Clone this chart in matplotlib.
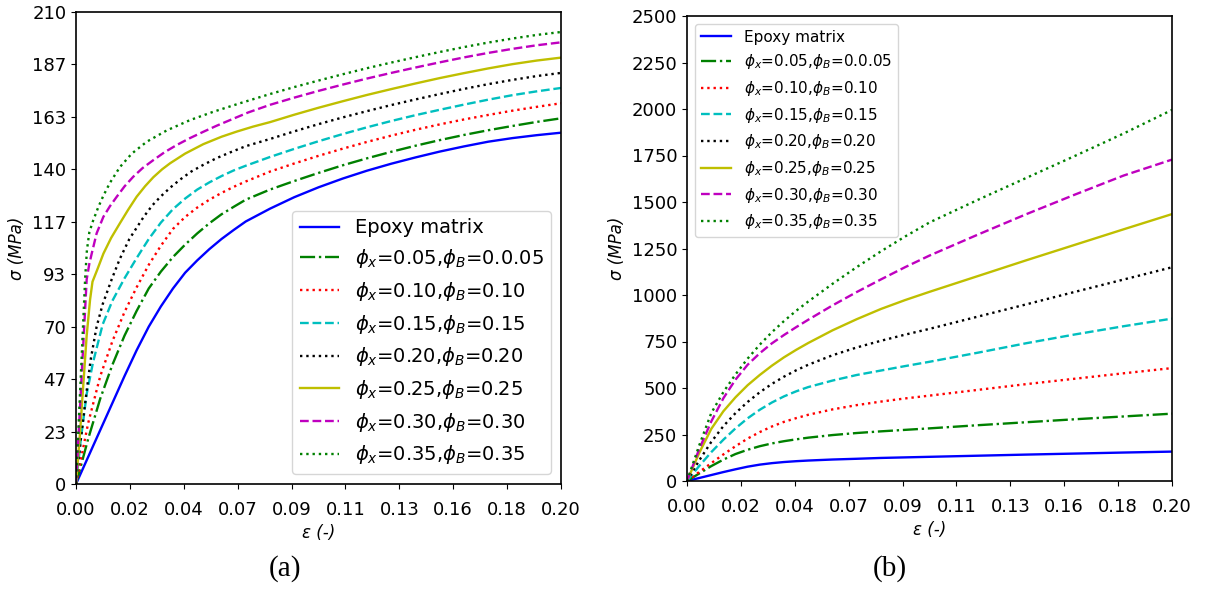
import matplotlib
matplotlib.use('Agg')
import matplotlib.pyplot as plt

# ---------------- data: panel (a) ----------------
a_grid = [0, 0.005, 0.01, 0.015, 0.02, 0.025, 0.03, 0.035, 0.04, 0.045, 0.05, 0.055, 0.06, 0.065,
          0.07, 0.08, 0.09, 0.10, 0.11, 0.12, 0.13, 0.14, 0.15, 0.16, 0.17, 0.18, 0.19, 0.20]
a_epoxy_sig = [0, 12, 24, 36, 48, 59.5, 70, 79, 87, 94, 99.5, 104.5, 109, 113, 116.8, 122.5, 127.6,
               132.0, 135.9, 139.4, 142.5, 145.3, 147.9, 150.2, 152.3, 153.9, 155.2, 156.3]
a_p05_sig = [0, 20, 38, 53, 66, 77, 87, 94.5, 101, 106.5, 111.5, 116, 120, 123.3, 126.5, 131, 134.8,
             138.4, 141.8, 144.9, 147.8, 150.5, 153.0, 155.3, 157.4, 159.3, 161.1, 162.7]
a_p10_sig = [0, 27, 48, 63.5, 76.5, 87.5, 97.5, 106, 113.5, 118.8, 123, 126.5, 129.5, 132.2, 134.6, 139,
             142.6, 146.0, 149.2, 152.2, 155.0, 157.6, 160.0, 162.2, 164.2, 166.1, 167.8, 169.4]

a_p15_eps = [0, 0.002, 0.0044, 0.007, 0.011, 0.015, 0.02, 0.025, 0.03, 0.035, 0.04, 0.045, 0.05, 0.055, 0.06,
             0.065, 0.07, 0.08, 0.09, 0.10, 0.11, 0.12, 0.13, 0.14, 0.15, 0.16, 0.17, 0.18, 0.19, 0.20]
a_p15_sig = [0, 20, 40, 54, 71, 81.5, 91.5, 100.5, 109, 116.3, 122.3, 127, 131, 134.2, 137, 139.5, 141.6,
             145.5, 149.1, 152.5, 155.7, 158.7, 161.5, 164.1, 166.5, 168.8, 171.0, 173.0, 174.7, 176.2]

a_p20_eps = [0, 0.002, 0.004, 0.006, 0.0085, 0.011, 0.0147, 0.018, 0.022, 0.028, 0.0315, 0.035, 0.039, 0.043,
             0.0475, 0.0525, 0.058, 0.0635, 0.07, 0.08, 0.09, 0.10, 0.11, 0.12, 0.13, 0.14, 0.15, 0.16, 0.17,
             0.18, 0.19, 0.20]
a_p20_sig = [0, 20, 38, 55, 70, 80, 91, 100, 109, 119, 124, 128, 132, 135.5, 139, 142, 145, 147.5, 150.3,
             153.5, 156.9, 160.1, 163.1, 165.9, 168.6, 171.1, 173.5, 175.8, 177.9, 179.8, 181.5, 182.9]

a_p25_eps = [0, 0.0016, 0.003, 0.0044, 0.0058, 0.0068, 0.009, 0.0113, 0.0145, 0.0181, 0.0215, 0.025, 0.0285,
             0.0319, 0.0355, 0.0388, 0.045, 0.0525, 0.06, 0.0663, 0.073, 0.08, 0.09, 0.10, 0.11, 0.12, 0.13,
             0.14, 0.15, 0.16, 0.17, 0.18, 0.19, 0.20]
a_p25_sig = [0, 22, 44, 66, 82, 90, 96, 102.5, 109.5, 116, 122, 127.8, 132.5, 136.5, 140, 142.7, 147, 151.2,
             154.5, 156.8, 159, 161, 164.3, 167.4, 170.3, 173.1, 175.7, 178.2, 180.6, 182.8, 184.9, 186.8,
             188.4, 189.7]

a_p30_eps = [0, 0.0044, 0.0055, 0.0065, 0.0085, 0.0113, 0.014, 0.0168, 0.02, 0.0236, 0.0275, 0.0319, 0.0365,
             0.0415, 0.047, 0.0525, 0.058, 0.0635, 0.071, 0.08, 0.09, 0.10, 0.11, 0.12, 0.13, 0.14, 0.15, 0.16,
             0.17, 0.18, 0.19, 0.20]
a_p30_sig = [0, 91, 98, 102.6, 111.5, 118.9, 123.6, 127.8, 132.4, 136.7, 140.6, 144.1, 147.6, 150.8, 153.9,
             156.7, 159.4, 161.9, 165.3, 168.7, 171.9, 174.9, 177.7, 180.4, 182.9, 185.3, 187.6, 189.8, 191.8,
             193.6, 195.2, 196.5]

a_p35_eps = [0, 0.0038, 0.0045, 0.0055, 0.007, 0.0092, 0.0113, 0.014, 0.0181, 0.023, 0.0292, 0.0374, 0.047,
             0.0566, 0.0676, 0.08, 0.09, 0.10, 0.11, 0.12, 0.13, 0.14, 0.15, 0.16, 0.17, 0.18, 0.19, 0.20]
a_p35_sig = [0, 92, 104, 112, 117, 123.2, 128.3, 134, 141, 147, 152.3, 157.3, 161.9, 165.6, 169.4, 173.5,
             176.6, 179.5, 182.3, 185.0, 187.5, 189.9, 192.2, 194.4, 196.4, 198.2, 199.8, 201.1]

# ---------------- data: panel (b) ----------------
b_eps = [0, 0.005, 0.01, 0.015, 0.02, 0.025, 0.03, 0.035, 0.04, 0.045, 0.05, 0.06, 0.07, 0.08, 0.09, 0.10,
         0.12, 0.14, 0.16, 0.18, 0.20]
b_epoxy_sig = [0, 16, 32, 48, 63, 77, 88, 96, 102, 106.5, 110, 115.5, 119.5, 124, 127, 130, 136, 142, 147.5, 153, 158]
b_p05_sig = [0, 40, 80, 115, 145, 168, 187, 202, 214, 224, 233, 247, 258, 267, 275, 283, 300, 316, 332, 347, 362]
b_p10_sig = [0, 48, 96, 143, 187, 228, 263, 293, 318, 338, 356, 385, 408, 427, 444, 459, 490, 521, 550, 579, 607]
b_p15_sig = [0, 80, 155, 222, 283, 337, 383, 422, 455, 482, 505, 540, 570, 594, 618, 641, 690, 741, 788, 832, 873]
b_p20_sig = [0, 110, 210, 295, 365, 425, 477, 522, 561, 595, 625, 676, 718, 754, 787, 818, 884, 950, 1017, 1083, 1149]
b_p25_sig = [0, 150, 280, 375, 450, 515, 570, 620, 665, 705, 742, 810, 870, 925, 973, 1017, 1102, 1187, 1270, 1353, 1435]
b_p30_sig = [0, 170, 320, 445, 545, 625, 687, 740, 785, 827, 867, 944, 1016, 1084, 1150, 1212, 1325, 1435, 1540, 1642, 1728]
b_p35_sig = [0, 190, 365, 478, 573, 658, 733, 800, 860, 915, 965, 1060, 1150, 1235, 1315, 1390, 1512, 1630, 1748, 1868, 1995]

# ---------------- labels / ticks ----------------
series_labels = ['Epoxy matrix',
                 r'$\phi_x$=0.05,$\phi_B$=0.0.05',
                 r'$\phi_x$=0.10,$\phi_B$=0.10',
                 r'$\phi_x$=0.15,$\phi_B$=0.15',
                 r'$\phi_x$=0.20,$\phi_B$=0.20',
                 r'$\phi_x$=0.25,$\phi_B$=0.25',
                 r'$\phi_x$=0.30,$\phi_B$=0.30',
                 r'$\phi_x$=0.35,$\phi_B$=0.35']
x_ticks = [0, 0.2/9, 0.4/9, 0.6/9, 0.8/9, 1.0/9, 1.2/9, 1.4/9, 1.6/9, 0.2]
x_ticklabels = ['0.00', '0.02', '0.04', '0.07', '0.09', '0.11', '0.13', '0.16', '0.18', '0.20']
a_y_ticks = [0, 70/3, 140/3, 70, 280/3, 350/3, 140, 490/3, 560/3, 210]
a_y_ticklabels = ['0', '23', '47', '70', '93', '117', '140', '163', '187', '210']
b_y_ticks = [0, 250, 500, 750, 1000, 1250, 1500, 1750, 2000, 2250, 2500]
b_y_ticklabels = ['0', '250', '500', '750', '1000', '1250', '1500', '1750', '2000', '2250', '2500']

styles = [('b', '-'), ('g', '-.'), ('r', ':'), ('c', '--'),
          ('k', ':'), ('y', '-'), ('m', '--'), ('g', ':')]

a_series = [(a_grid, a_epoxy_sig), (a_grid, a_p05_sig), (a_grid, a_p10_sig),
            (a_p15_eps, a_p15_sig), (a_p20_eps, a_p20_sig), (a_p25_eps, a_p25_sig),
            (a_p30_eps, a_p30_sig), (a_p35_eps, a_p35_sig)]
b_series = [b_epoxy_sig, b_p05_sig, b_p10_sig, b_p15_sig, b_p20_sig, b_p25_sig, b_p30_sig, b_p35_sig]

W, H = 1205, 590
fig = plt.figure(figsize=(W / 100, H / 100), dpi=100)
axA = fig.add_axes([76 / W, (H - 484) / H, 485 / W, 472 / H])
axB = fig.add_axes([687 / W, (H - 481) / H, 485 / W, 465 / H])

for (ex, sy), (c, ls), lab in zip(a_series, styles, series_labels):
    axA.plot(ex, sy, color=c, linestyle=ls, lw=1.7, label=lab)
for sy, (c, ls), lab in zip(b_series, styles, series_labels):
    axB.plot(b_eps, sy, color=c, linestyle=ls, lw=1.7, label=lab)

for ax, yt, ytl, ylim in [(axA, a_y_ticks, a_y_ticklabels, 210), (axB, b_y_ticks, b_y_ticklabels, 2500)]:
    ax.set_xlim(0, 0.2)
    ax.set_ylim(0, ylim)
    ax.set_xticks(x_ticks)
    ax.set_xticklabels(x_ticklabels)
    ax.set_yticks(yt)
    ax.set_yticklabels(ytl)
    ax.tick_params(axis='both', labelsize=13)
    ax.tick_params(axis='x', pad=8.5)
    for s in ax.spines.values():
        s.set_linewidth(1.2)
    ax.set_xlabel('ε (-)', fontsize=12, style='italic')
    ax.set_ylabel('σ (MPa)', fontsize=12, style='italic')

axA.legend(loc='lower right', fontsize=14)
axB.legend(loc='upper left', fontsize=11)

fig.text(285 / W, 1 - 569 / H, '(a)', fontsize=21, family='Liberation Serif', ha='center', va='center')
fig.text(890 / W, 1 - 569 / H, '(b)', fontsize=21, family='Liberation Serif', ha='center', va='center')

fig.savefig('out.png', dpi=100)
